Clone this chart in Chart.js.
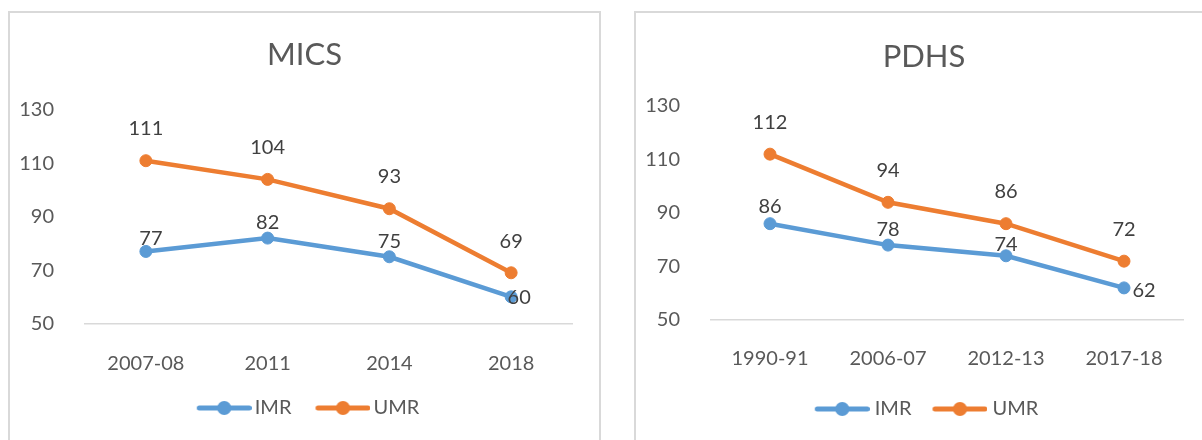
<!DOCTYPE html>
<html>
<head>
<meta charset="utf-8">
<script src="https://cdn.jsdelivr.net/npm/chart.js@4.4.0/dist/chart.umd.min.js"></script>
<style>
  html, body { margin: 0; padding: 0; background: #fff; overflow: hidden; }
  body { width: 1202px; height: 440px; position: relative; }
  .box { position: absolute; top: 11px; height: 440px; border: 2px solid #d9d9d9; border-bottom: none; }
  #box-mics { left: 8px; width: 589px; }
  #box-pdhs { left: 634px; width: 576px; }
  canvas { position: absolute; left: 0; top: 0; }
</style>
</head>
<body>
<div class="box" id="box-mics"><canvas id="mics" width="589" height="427"></canvas></div>
<div class="box" id="box-pdhs"><canvas id="pdhs" width="576" height="427"></canvas></div>
<script>
// MICS
const micsYears = ['2007-08', '2011', '2014', '2018'];
const micsIMR = [77, 82, 75, 60];
const micsUMR = [111, 104, 93, 69];

// PDHS
const pdhsYears = ['1990-91', '2006-07', '2012-13', '2017-18'];
const pdhsIMR = [86, 78, 74, 62];
const pdhsUMR = [112, 94, 86, 72];

const yTicks = { min: 50, max: 130, step: 20 };

const BLUE = '#5b9bd5';
const ORANGE = '#ed7d31';
const GREY_TXT = '#595959';
const FONT = 'Lato';

// linea + punto para la leyenda (como en Excel)
function legendMarker(color, shift) {
  const c = document.createElement('canvas');
  c.width = 55 + 2 * shift;
  c.height = 16;
  const g = c.getContext('2d');
  g.strokeStyle = color;
  g.lineWidth = 5;
  g.lineCap = 'round';
  g.beginPath();
  g.moveTo(2 * shift + 2.5, 8);
  g.lineTo(2 * shift + 52.5, 8);
  g.stroke();
  g.fillStyle = color;
  g.beginPath();
  g.arc(2 * shift + 27.5, 8, 7, 0, Math.PI * 2);
  g.fill();
  return c;
}

// etiquetas de valor sobre los puntos
const pointLabels = {
  id: 'pointLabels',
  afterDatasetsDraw(chart) {
    const ctx = chart.ctx;
    ctx.save();
    ctx.font = `20px ${FONT}`;
    ctx.fillStyle = '#404040';
    ctx.textAlign = 'center';
    ctx.textBaseline = 'middle';
    chart.data.datasets.forEach((ds, i) => {
      chart.getDatasetMeta(i).data.forEach((pt, j) => {
        const [dx, dy] = ds.labelOffsets[j];
        ctx.fillText(ds.data[j], pt.x + dx, pt.y + dy);
      });
    });
    ctx.restore();
  }
};

function serie(label, data, color, offsets) {
  return {
    label,
    data,
    borderColor: color,
    backgroundColor: color,
    borderWidth: 4.5,
    pointRadius: 6,
    pointBorderWidth: 1,
    pointBackgroundColor: color,
    tension: 0,
    labelOffsets: offsets
  };
}

function makeChart(id, title, years, imr, umr, imrOffsets, umrOffsets, lay) {
  return new Chart(document.getElementById(id), {
    type: 'line',
    data: {
      labels: years,
      datasets: [
        serie('IMR', imr, BLUE, imrOffsets),
        serie('UMR', umr, ORANGE, umrOffsets)
      ]
    },
    options: {
      responsive: false,
      animation: false,
      layout: { padding: { top: 0, left: 0, right: 0, bottom: lay.padBottom } },
      scales: {
        x: {
          offset: true,
          grid: { display: false },
          border: { display: true, color: '#d9d9d9', width: 1.5 },
          ticks: { color: GREY_TXT, font: { family: FONT, size: 20 }, padding: lay.xPad },
          afterFit: s => { s.height = lay.xHeight; }
        },
        y: {
          min: yTicks.min,
          max: yTicks.max,
          grid: { display: false },
          border: { display: false },
          ticks: { stepSize: yTicks.step, color: GREY_TXT, font: { family: FONT, size: 20 }, padding: lay.yPad },
          afterFit: s => { s.width = lay.yWidth; }
        },
        spacer: {
          position: 'right',
          grid: { display: false },
          border: { display: false },
          ticks: { display: false },
          afterFit: s => { s.width = lay.rightWidth; }
        }
      },
      plugins: {
        title: {
          display: true,
          text: title,
          color: GREY_TXT,
          font: { family: FONT, size: 31, weight: 'normal' },
          padding: { top: lay.titleTop, bottom: lay.titleBottom }
        },
        legend: {
          position: 'bottom',
          labels: {
            usePointStyle: true,
            pointStyleWidth: lay.legendW,
            padding: lay.legendPad,
            color: GREY_TXT,
            font: { family: FONT, size: 20 },
            generateLabels: chart => chart.data.datasets.map((ds, i) => ({
              text: ds.label,
              datasetIndex: i,
              hidden: false,
              fontColor: GREY_TXT,
              fillStyle: ds.borderColor,
              strokeStyle: ds.borderColor,
              lineWidth: 0,
              pointStyle: legendMarker(ds.borderColor, lay.legendShift)
            }))
          }
        },
        tooltip: { enabled: false }
      }
    },
    plugins: [pointLabels]
  });
}

makeChart('mics', 'MICS', micsYears, micsIMR, micsUMR,
  [[5, -13], [0, -16], [0, -15], [8, 1]],
  [[0, -32], [0, -32], [0, -32], [0, -31]],
  { padBottom: 12, xPad: 20.5, xHeight: 57.5, yPad: 23, yWidth: 75, rightWidth: 27,
    titleTop: 23.4, titleBottom: 36.4, legendW: 55, legendPad: 17, legendShift: 7 });

makeChart('pdhs', 'PDHS', pdhsYears, pdhsIMR, pdhsUMR,
  [[0, -17], [0, -16], [0, -11], [20, 3]],
  [[0, -32], [0, -32], [0, -32], [0, -32]],
  { padBottom: 11, xPad: 19, xHeight: 63, yPad: 23, yWidth: 75, rightWidth: 29,
    titleTop: 25.4, titleBottom: 30.4, legendW: 55, legendPad: 16, legendShift: 5 });
</script>
</body>
</html>
